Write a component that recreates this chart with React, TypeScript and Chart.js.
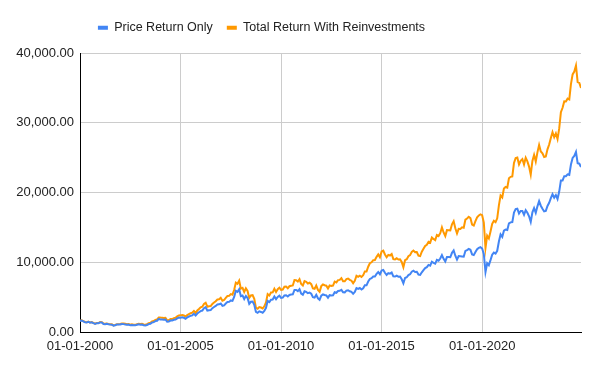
import React, { useEffect, useRef } from "react";
import { Chart, registerables } from "chart.js";

Chart.register(...registerables);

const startYear = 2000;
const xTickYears = [2000, 2005, 2010, 2015, 2020];
const yTicks = [0, 10000, 20000, 30000, 40000];
const seriesNames = ["Price Return Only", "Total Return With Reinvestments"];

// Monthly values, Jan 2000 .. Dec 2024
const priceReturn = [
  1590, 1655, 1528, 1406, 1380, 1471, 1332, 1394, 1271, 1173, 1268, 1264,
  1372, 1352, 1148, 1126, 1167, 1107, 1073, 1053, 913, 971, 1067, 1059,
  1075, 1142, 1129, 1084, 1028, 1057, 958, 1010, 963, 952, 1034, 1093,
  1042, 1063, 978, 934, 1006, 1134, 1185, 1356, 1418, 1555, 1615, 1880,
  1809, 1800, 1771, 1796, 1483, 1505, 1632, 1631, 1746, 1786, 1958, 2080,
  2057, 2103, 2036, 1902, 2087, 2221, 2312, 2385, 2601, 2371, 2652, 2837,
  3001, 3074, 3403, 3558, 3071, 3128, 3143, 3413, 3588, 3744, 3955, 3966,
  4083, 3745, 3822, 4087, 4296, 4318, 4529, 4464, 5021, 5901, 5762, 6139,
  5137, 5224, 4735, 5166, 4870, 4041, 4333, 4360, 3921, 2886, 2755, 2959,
  2874, 2763, 3021, 3474, 4449, 4291, 4636, 4662, 5084, 4712, 5033, 5201,
  4882, 4922, 5249, 5278, 5087, 5313, 5368, 5402, 6030, 6018, 5863, 6135,
  5506, 5333, 5834, 5750, 5560, 5647, 5482, 5001, 4943, 5326, 4832, 4624,
  5199, 5385, 5296, 5248, 4924, 5279, 5229, 5259, 5703, 5620, 5880, 5905,
  6035, 5693, 5683, 5930, 5986, 5843, 5742, 5472, 5735, 6299, 6176, 6304,
  6090, 6277, 6704, 6696, 7230, 7611, 7721, 7954, 7965, 8322, 8588, 8283,
  8809, 8902, 8491, 8182, 8434, 8369, 8533, 7971, 7949, 8066, 7935, 7946,
  7564, 6987, 7738, 7850, 8160, 8288, 8639, 8786, 8611, 8626, 8224, 8186,
  8561, 8880, 9174, 9304, 9621, 9521, 10077, 9918, 9789, 10335, 10227, 10531,
  11028, 10493, 10114, 10739, 10736, 10714, 11357, 11681, 10930, 10387, 10877, 10863,
  10831, 10793, 11624, 11748, 11923, 11789, 11118, 11023, 11474, 11877, 12056, 12168,
  11962, 11202, 8598, 9860, 9580, 10302, 11073, 11388, 11248, 11642, 12969, 13982,
  13635, 14529, 14691, 14631, 15583, 15722, 15763, 17132, 17618, 17672, 16983, 17354,
  17340, 16794, 17465, 17103, 16585, 15780, 17158, 17759, 17094, 18012, 18758, 18105,
  17662, 17304, 17360, 18065, 18534, 19189, 19754, 19254, 19638, 19080, 20133, 21731,
  21726, 22339, 22327, 22605, 22531, 24011, 24951, 25236, 25811, 24205, 24131, 23645,
];

const totalReturn = [
  1622, 1688, 1559, 1434, 1408, 1500, 1359, 1422, 1296, 1196, 1293, 1289,
  1441, 1420, 1205, 1182, 1225, 1162, 1127, 1106, 959, 1020, 1120, 1112,
  1161, 1233, 1219, 1171, 1110, 1142, 1035, 1091, 1040, 1028, 1117, 1180,
  1157, 1180, 1086, 1037, 1117, 1259, 1315, 1505, 1574, 1726, 1793, 2087,
  2062, 2052, 2019, 2047, 1691, 1716, 1860, 1859, 1990, 2036, 2232, 2371,
  2386, 2439, 2362, 2206, 2421, 2576, 2682, 2767, 3017, 2750, 3076, 3291,
  3541, 3627, 4016, 4198, 3624, 3691, 3709, 4027, 4234, 4418, 4667, 4680,
  4900, 4494, 4586, 4904, 5155, 5182, 5435, 5357, 6025, 7081, 6914, 7367,
  6216, 6321, 5729, 6251, 5893, 4890, 5243, 5276, 4744, 3492, 3334, 3580,
  3506, 3371, 3686, 4238, 5428, 5235, 5656, 5688, 6202, 5749, 6140, 6345,
  6029, 6079, 6483, 6518, 6282, 6562, 6629, 6671, 7447, 7432, 7241, 7577,
  6883, 6666, 7293, 7188, 6950, 7059, 6853, 6251, 6179, 6658, 6040, 5780,
  6577, 6812, 6699, 6639, 6229, 6678, 6615, 6653, 7214, 7109, 7438, 7470,
  7725, 7287, 7274, 7590, 7662, 7479, 7350, 7004, 7341, 8063, 7905, 8069,
  7887, 8129, 8682, 8671, 9363, 9856, 9999, 10300, 10315, 10777, 11121, 10726,
  11540, 11662, 11123, 10718, 11049, 10963, 11178, 10442, 10413, 10566, 10395, 10409,
  10060, 9293, 10292, 10441, 10853, 11023, 11490, 11685, 11453, 11473, 10938, 10887,
  11515, 11944, 12339, 12514, 12940, 12806, 13554, 13340, 13166, 13901, 13755, 14164,
  14998, 14270, 13755, 14605, 14601, 14571, 15446, 15886, 14865, 14126, 14793, 14774,
  15001, 14948, 16099, 16271, 16513, 16328, 15398, 15267, 15891, 16450, 16698, 16853,
  16747, 15683, 12037, 13804, 13412, 14423, 15502, 15943, 15747, 16299, 18157, 19575,
  19294, 20559, 20788, 20703, 22050, 22247, 22305, 24242, 24929, 25006, 24031, 24556,
  24796, 24015, 24975, 24457, 23717, 22565, 24536, 25395, 24444, 25757, 26824, 25890,
  25610, 25091, 25172, 26194, 26874, 27824, 28643, 27918, 28475, 27666, 29193, 31510,
  32154, 33062, 33044, 33455, 33346, 35536, 36927, 37349, 38200, 35823, 35714, 34995,
];

const monthTimes = priceReturn.map((_, i) => startYear + i / 12);

const FONT = "'Liberation Sans', Arial, sans-serif";
const BLUE = "#4285F4";
const ORANGE = "#FF9900";

const legendShift = {
  id: "legendShift",
  afterLayout(chart: any) {
    const l = chart.legend;
    if (l) {
      l.left -= 29;
      l.right -= 29;
      l.top -= 9;
      l.bottom -= 9;
    }
  },
};

export default function App() {
  const ref = useRef<HTMLCanvasElement | null>(null);

  useEffect(() => {
    document.body.style.margin = "0";
    const canvas = ref.current;
    if (!canvas) return;
    const chart = new Chart(canvas, {
      type: "line",
      plugins: [legendShift],
      data: {
        datasets: [
          {
            label: seriesNames[0],
            data: priceReturn.map((v, i) => ({ x: monthTimes[i], y: v })),
            borderColor: BLUE,
            backgroundColor: BLUE,
            borderWidth: 2,
            pointRadius: 0,
            tension: 0,
          },
          {
            label: seriesNames[1],
            data: totalReturn.map((v, i) => ({ x: monthTimes[i], y: v })),
            borderColor: ORANGE,
            backgroundColor: ORANGE,
            borderWidth: 2,
            pointRadius: 0,
            tension: 0,
          },
        ],
      },
      options: {
        animation: false,
        responsive: false,
        maintainAspectRatio: false,
        layout: { padding: { top: 8, right: 19, left: 0, bottom: 0 } },
        plugins: {
          tooltip: { enabled: false },
          legend: {
            display: true,
            position: "top",
            labels: {
              color: "#222",
              font: { family: FONT, size: 12.5 },
              boxWidth: 10,
              boxHeight: 4,
              padding: 14,
              generateLabels: (c: any) => {
                const items = Chart.defaults.plugins.legend.labels.generateLabels(c);
                return items.map((it: any) => ({ ...it, lineWidth: 0, strokeStyle: it.fillStyle }));
              },
            },
          },
        },
        scales: {
          x: {
            type: "linear",
            min: monthTimes[0],
            max: monthTimes[monthTimes.length - 1],
            afterBuildTicks: (scale: any) => {
              scale.ticks = xTickYears.map((v) => ({ value: v }));
            },
            afterFit: (scale: any) => {
              scale.height = 39;
            },
            ticks: {
              color: "#222",
              font: { family: FONT, size: 13 },
              padding: 7,
              maxRotation: 0,
              autoSkip: false,
              callback: (v: any) => `01-01-${v}`,
            },
            grid: { color: "#cccccc", drawTicks: false, lineWidth: 1 },
            border: { display: true, color: "#000000", width: 1 },
          },
          y: {
            type: "linear",
            min: 0,
            max: 40000,
            afterBuildTicks: (scale: any) => {
              scale.ticks = yTicks.map((v) => ({ value: v }));
            },
            afterFit: (scale: any) => {
              scale.width = 80;
              scale.paddingTop = 53;
            },
            ticks: {
              color: "#222",
              font: { family: FONT, size: 13 },
              padding: 6,
              callback: (v: any) =>
                Number(v).toLocaleString("en-US", { minimumFractionDigits: 2, maximumFractionDigits: 2 }),
            },
            grid: { color: "#cccccc", drawTicks: false, lineWidth: 1 },
            border: { display: true, color: "#000000", width: 1 },
          },
        },
      },
    });
    return () => chart.destroy();
  }, []);

  return (
    <div style={{ width: 600, height: 371, background: "#fff" }}>
      <canvas ref={ref} width={600} height={371} style={{ width: 600, height: 371, display: "block" }} />
    </div>
  );
}
